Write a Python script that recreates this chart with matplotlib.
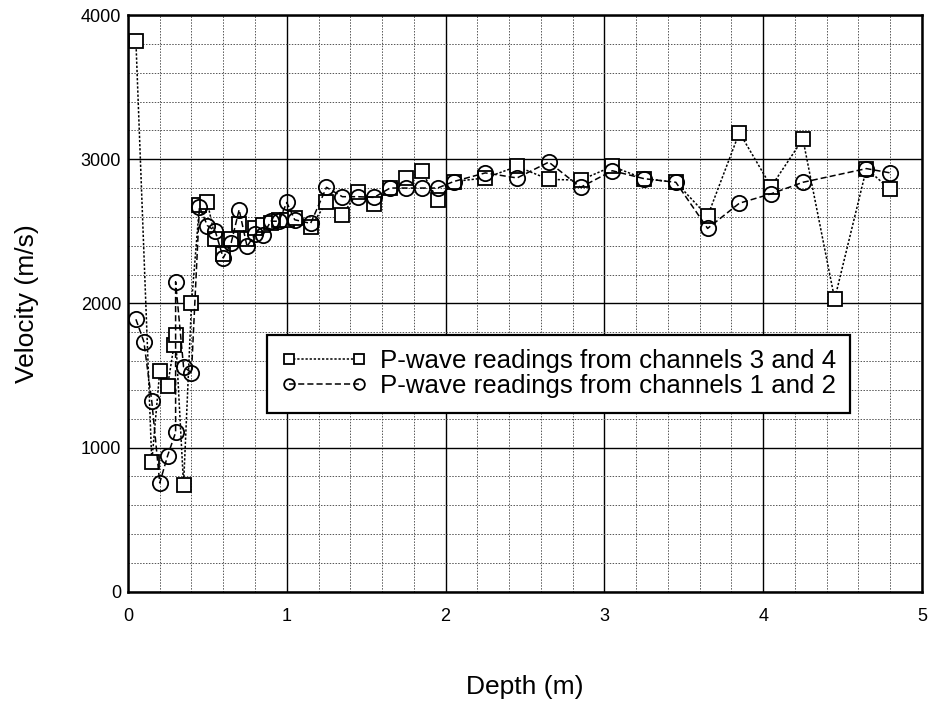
import numpy as np
import matplotlib.pyplot as plt
from matplotlib.ticker import MultipleLocator

plt.rcParams["font.family"] = ["Liberation Sans", "DejaVu Sans"]

# channels 3 and 4 (squares)
depth_34 = [0.05, 0.15, 0.20, 0.25, 0.29, 0.30, 0.35, 0.40, 0.45, 0.50, 0.55, 0.60,
            0.65, 0.70, 0.75, 0.80, 0.85, 0.90, 0.95, 1.00, 1.05, 1.15, 1.25, 1.35,
            1.45, 1.55, 1.65, 1.75, 1.85, 1.95, 2.05, 2.25, 2.45, 2.65, 2.85, 3.05,
            3.25, 3.45, 3.65, 3.85, 4.05, 4.25, 4.45, 4.65, 4.80]
vel_34 = [3820, 900, 1530, 1430, 1710, 1780, 740, 2000, 2680, 2700, 2450, 2340,
          2450, 2550, 2450, 2520, 2545, 2560, 2580, 2580, 2590, 2530, 2700, 2615,
          2775, 2690, 2800, 2870, 2915, 2718, 2845, 2870, 2950, 2860, 2855, 2950,
          2865, 2840, 2605, 3185, 2810, 3140, 2030, 2935, 2790]

# channels 1 and 2 (circles)
depth_12 = [0.05, 0.10, 0.15, 0.20, 0.25, 0.30, 0.30, 0.35, 0.40, 0.45, 0.50, 0.55,
            0.60, 0.65, 0.70, 0.75, 0.80, 0.85, 0.90, 0.95, 1.00, 1.05, 1.15, 1.25,
            1.35, 1.45, 1.55, 1.65, 1.75, 1.85, 1.95, 2.05, 2.25, 2.45, 2.65, 2.85,
            3.05, 3.25, 3.45, 3.65, 3.85, 4.05, 4.25, 4.65, 4.80]
vel_12 = [1890, 1735, 1320, 755, 945, 1105, 2150, 1560, 1520, 2670, 2540, 2500,
          2315, 2420, 2650, 2395, 2480, 2475, 2570, 2570, 2700, 2580, 2555, 2805,
          2740, 2740, 2735, 2800, 2800, 2800, 2800, 2845, 2905, 2870, 2980, 2805,
          2920, 2865, 2840, 2520, 2695, 2760, 2840, 2935, 2905]

fig = plt.figure(figsize=(9.3, 7.02), dpi=100)
ax = fig.add_axes([0.1376, 0.157, 0.8538, 0.8216])

ax.plot(depth_34, vel_34, linestyle=(0, (1.5, 1.2)), color='black', lw=1.1,
        marker='s', markersize=10, mfc='white', mec='black', mew=1.3,
        label='P-wave readings from channels 3 and 4')
ax.plot(depth_12, vel_12, linestyle=(0, (4, 2)), color='black', lw=1.1,
        marker='o', markersize=11, mfc='none', mec='black', mew=1.3,
        label='P-wave readings from channels 1 and 2')

ax.set_xlim(0, 5)
ax.set_ylim(0, 4000)
ax.xaxis.set_major_locator(MultipleLocator(1))
ax.xaxis.set_minor_locator(MultipleLocator(0.2))
ax.yaxis.set_major_locator(MultipleLocator(1000))
ax.yaxis.set_minor_locator(MultipleLocator(200))
ax.grid(which='major', color='black', lw=1.0)
ax.grid(which='minor', color='#555555', lw=0.7, linestyle=(0, (1.5, 1.5)))
ax.set_axisbelow(True)
ax.tick_params(which='both', direction='in', length=0, labelsize=13)
ax.tick_params(axis='x', pad=12)
ax.tick_params(axis='y', pad=5)
for s in ax.spines.values():
    s.set_linewidth(1.8)

ax.set_xlabel('Depth (m)', fontsize=19, labelpad=36)
ax.set_ylabel('Velocity (m/s)', fontsize=19, labelpad=30)

leg = ax.legend(loc='upper left', bbox_to_anchor=(0.1757, 0.4454), fontsize=18.6,
                numpoints=2, handlelength=3.3, handletextpad=0.5, fancybox=False,
                framealpha=1, edgecolor='black', borderpad=0.55, labelspacing=0.05,
                markerscale=0.7, borderaxespad=0)
leg.get_frame().set_linewidth(1.6)

fig.savefig('out.png', dpi=100)
